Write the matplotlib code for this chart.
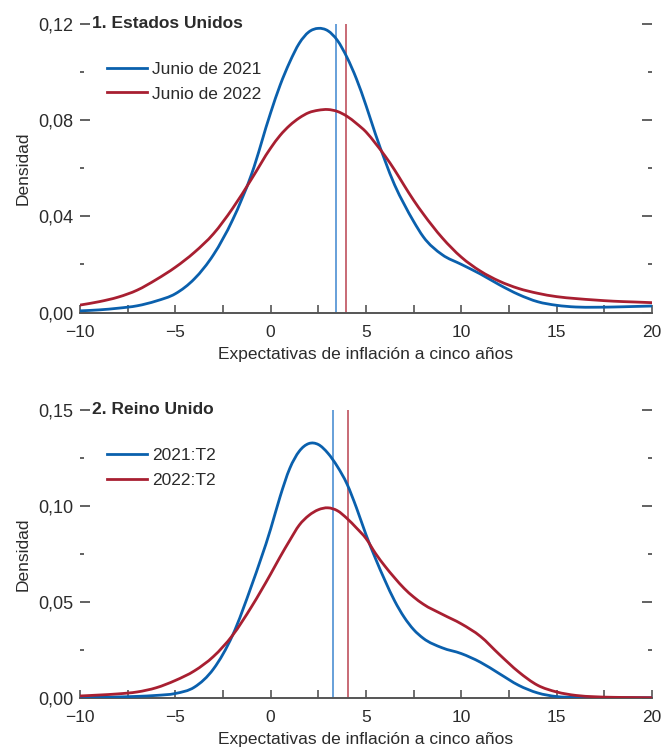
import matplotlib
matplotlib.use("Agg")
import matplotlib.pyplot as plt
from matplotlib.ticker import FixedLocator, FuncFormatter
from matplotlib.path import Path
from matplotlib.patches import PathPatch
from matplotlib.lines import Line2D

plt.rcParams['font.family'] = ['Liberation Sans', 'DejaVu Sans']

# ---- data ----
x_grid = [-10, -9, -8, -7, -6, -5, -4, -3, -2, -1, 0, 0.5, 1, 1.5, 2, 2.5, 3, 3.5,
          4, 4.5, 5, 5.5, 6, 6.5, 7, 7.5, 8, 9, 10, 11, 12, 13, 14, 15, 16, 17, 18, 19, 20]

us_2021 = [0.0007, 0.0011, 0.0018, 0.0028, 0.0048, 0.0078, 0.0140, 0.0240, 0.0384, 0.0575,
           0.0830, 0.0945, 0.1040, 0.1118, 0.1165, 0.1180, 0.1170, 0.1130, 0.1060, 0.0970,
           0.0860, 0.0740, 0.0630, 0.0530, 0.0450, 0.0378, 0.0315, 0.0240, 0.0200, 0.0160,
           0.0115, 0.0075, 0.0045, 0.0030, 0.0023, 0.0022, 0.0023, 0.0025, 0.0027]
us_2022 = [0.0031, 0.0045, 0.0064, 0.0093, 0.0137, 0.0188, 0.0250, 0.0327, 0.0432, 0.0555,
           0.0683, 0.0736, 0.0777, 0.0808, 0.0830, 0.0840, 0.0843, 0.0835, 0.0815, 0.0785,
           0.0750, 0.0702, 0.0650, 0.0592, 0.0528, 0.0466, 0.0410, 0.0310, 0.0230, 0.0172,
           0.0130, 0.0100, 0.0080, 0.0066, 0.0058, 0.0052, 0.0047, 0.0044, 0.0041]
uk_2021 = [0.0000, 0.0002, 0.0004, 0.0007, 0.0012, 0.0022, 0.0055, 0.0150, 0.0325, 0.0585,
           0.0880, 0.1050, 0.1195, 0.1285, 0.1325, 0.1320, 0.1275, 0.1205, 0.1115, 0.0990,
           0.0850, 0.0725, 0.0610, 0.0505, 0.0420, 0.0355, 0.0310, 0.0260, 0.0230, 0.0185,
           0.0125, 0.0065, 0.0025, 0.0006, 0.0002, 0.0001, 0.0000, 0.0000, 0.0000]
uk_2022 = [0.0009, 0.0014, 0.0020, 0.0030, 0.0052, 0.0090, 0.0140, 0.0215, 0.0325, 0.0475,
           0.0645, 0.0735, 0.0820, 0.0900, 0.0950, 0.0980, 0.0990, 0.0975, 0.0935, 0.0885,
           0.0830, 0.0752, 0.0685, 0.0625, 0.0570, 0.0525, 0.0488, 0.0435, 0.0385, 0.0320,
           0.0225, 0.0135, 0.0065, 0.0030, 0.0012, 0.0005, 0.0002, 0.0001, 0.0000]

us_means = [3.42, 3.93]
uk_means = [3.28, 4.04]

us_labels = ["Junio de 2021", "Junio de 2022"]
uk_labels = ["2021:T2", "2022:T2"]
titles = ["1. Estados Unidos", "2. Reino Unido"]
xlabel = "Expectativas de inflación a cinco años"
ylabel = "Densidad"

us_major = [0.00, 0.04, 0.08, 0.12]
us_minor = [0.02, 0.06, 0.10]
uk_major = [0.00, 0.05, 0.10, 0.15]
uk_minor = [0.025, 0.075, 0.125]

BLUE = '#0a60ad'
RED = '#a81f31'
BLUE_V = '#3d86cf'
RED_V = '#b9434f'
TXT = '#2b2b2b'
TICK = '#555555'
FS = 12.5

fig = plt.figure(figsize=(6.64, 7.52), dpi=100)
ax1 = fig.add_axes([0.1205, 0.5844, 0.8614, 0.3843])
ax2 = fig.add_axes([0.1205, 0.0722, 0.8614, 0.3826])


def fmt(v, pos):
    return f"{v:.2f}".replace('.', ',')


def smooth_path(xs, ys):
    """Cubic Hermite curve through the data points, expressed as Bezier segments."""
    n = len(xs)
    m = []
    for i in range(n):
        if i == 0:
            m.append((ys[1] - ys[0]) / (xs[1] - xs[0]))
        elif i == n - 1:
            m.append((ys[-1] - ys[-2]) / (xs[-1] - xs[-2]))
        else:
            h0 = xs[i] - xs[i - 1]
            h1 = xs[i + 1] - xs[i]
            d0 = (ys[i] - ys[i - 1]) / h0
            d1 = (ys[i + 1] - ys[i]) / h1
            m.append((d0 * h1 + d1 * h0) / (h0 + h1))
    verts = [(xs[0], ys[0])]
    codes = [Path.MOVETO]
    for i in range(n - 1):
        h = xs[i + 1] - xs[i]
        verts += [(xs[i] + h / 3, ys[i] + m[i] * h / 3),
                  (xs[i + 1] - h / 3, ys[i + 1] - m[i + 1] * h / 3),
                  (xs[i + 1], ys[i + 1])]
        codes += [Path.CURVE4] * 3
    return Path(verts, codes)


def style(ax, ymax, major, minor, title, series, labels, means):
    handles = []
    for s, c, lab in zip(series, [BLUE, RED], labels):
        patch = PathPatch(smooth_path(x_grid, s), facecolor='none', edgecolor=c,
                          lw=2.0, capstyle='round', joinstyle='round', zorder=3,
                          transform=ax.transData)
        ax.add_patch(patch)
        handles.append(Line2D([], [], color=c, lw=2.0, label=lab))
    ax.axvline(means[0], color=BLUE_V, lw=1.1, zorder=2)
    ax.axvline(means[1], color=RED_V, lw=1.1, zorder=2)
    ax.set_xlim(-10, 20)
    ax.set_ylim(0, ymax)
    for sp in ['top', 'left', 'right']:
        ax.spines[sp].set_visible(False)
    ax.spines['bottom'].set_color(TICK)
    ax.spines['bottom'].set_linewidth(1.4)
    ax.xaxis.set_major_locator(FixedLocator([-10, -5, 0, 5, 10, 15, 20]))
    ax.xaxis.set_minor_locator(FixedLocator([-7.5, -2.5, 2.5, 7.5, 12.5, 17.5]))
    ax.yaxis.set_major_locator(FixedLocator(major))
    ax.yaxis.set_minor_locator(FixedLocator(minor))
    ax.yaxis.set_major_formatter(FuncFormatter(fmt))
    ax.tick_params(axis='x', which='both', direction='in', length=6, width=1.2,
                   color=TICK, labelsize=FS, labelcolor=TXT, pad=9)
    ax.tick_params(axis='y', which='major', direction='in', length=7, width=1.3,
                   color=TICK, labelsize=13, labelcolor=TXT, pad=5,
                   left=True, right=True)
    ax.tick_params(axis='y', which='minor', direction='in', length=3, width=1.3,
                   color=TICK, left=True, right=True)
    ax.set_xlabel(xlabel, fontsize=FS, color=TXT, labelpad=5)
    ax.set_ylabel(ylabel, fontsize=FS, color=TXT, labelpad=5)
    ax.text(0.021, 1.0, title, transform=ax.transAxes, fontsize=FS,
            fontweight='bold', color=TXT, va='center', ha='left')
    leg = ax.legend(handles=handles, loc='upper left', bbox_to_anchor=(0.047, 0.868),
                    frameon=False, fontsize=FS, handlelength=2.3, handletextpad=0.3,
                    borderpad=0, borderaxespad=0, labelspacing=0.55)
    for t in leg.get_texts():
        t.set_color(TXT)


style(ax1, 0.12, us_major, us_minor, titles[0], (us_2021, us_2022), us_labels, us_means)
style(ax2, 0.15, uk_major, uk_minor, titles[1], (uk_2021, uk_2022), uk_labels, uk_means)

fig.savefig("out.png", dpi=100)
